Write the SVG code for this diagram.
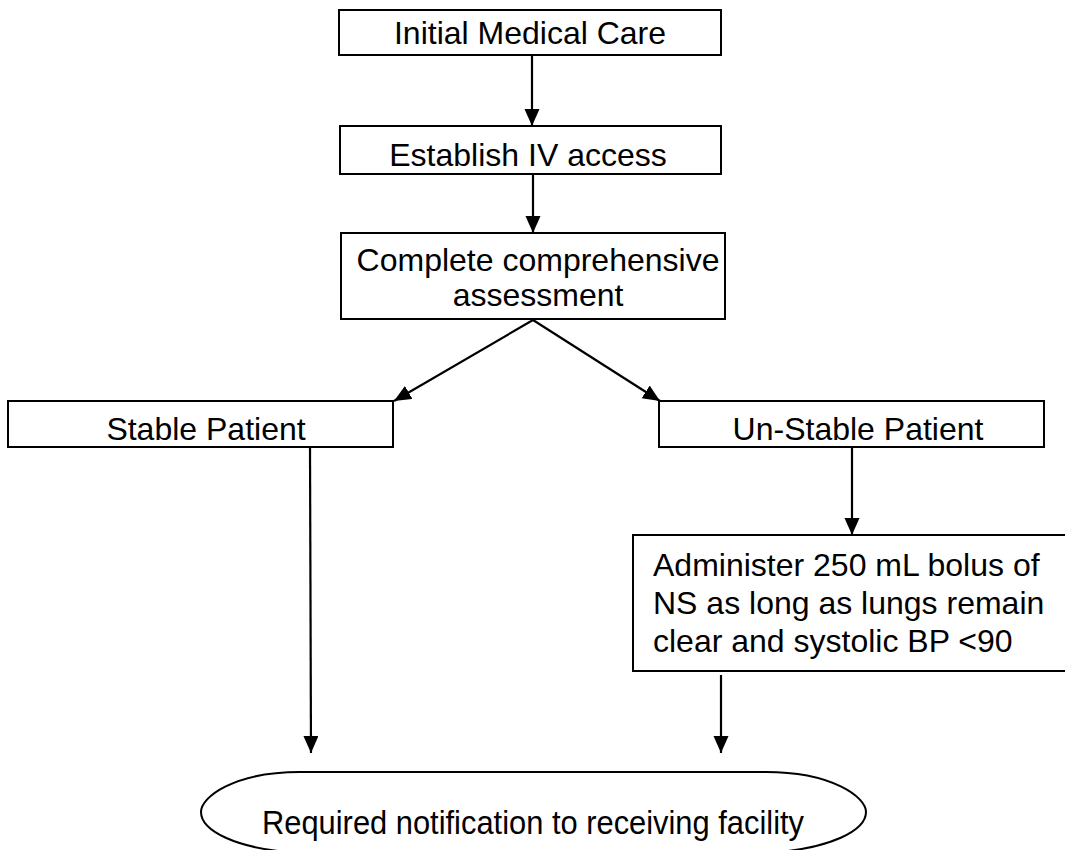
<svg xmlns="http://www.w3.org/2000/svg" width="1065" height="850" viewBox="0 0 1065 850">
<defs>
<style>
.box{fill:#fff;stroke:#000;stroke-width:2}
.t{font-family:"Liberation Sans",Arial,sans-serif;font-size:32px;fill:#000}
.c{text-anchor:middle}
.ln{stroke:#000;stroke-width:2.2;fill:none}
</style>
<marker id="ah" markerUnits="userSpaceOnUse" markerWidth="18" markerHeight="16" refX="17" refY="7.5" orient="auto">
<path d="M0,0 L17,7.5 L0,15 Z" fill="#000"/>
</marker>
</defs>
<rect width="1065" height="850" fill="#fff"/>
<g id="connectors">
<line class="ln" x1="532" y1="55" x2="532" y2="126" marker-end="url(#ah)"/>
<line class="ln" x1="533" y1="174" x2="533" y2="233" marker-end="url(#ah)"/>
<line class="ln" x1="533" y1="320" x2="394" y2="401" marker-end="url(#ah)"/>
<line class="ln" x1="533" y1="320" x2="660" y2="401" marker-end="url(#ah)"/>
<line class="ln" x1="310" y1="447" x2="311" y2="753" marker-end="url(#ah)"/>
<line class="ln" x1="852" y1="448" x2="852" y2="535" marker-end="url(#ah)"/>
<line class="ln" x1="721" y1="675" x2="721" y2="753" marker-end="url(#ah)"/>
</g>
<g id="n1">
<rect class="box" x="339" y="10" width="382" height="45"/>
<text class="t c" x="530" y="44">Initial Medical Care</text>
</g>
<g id="n2">
<rect class="box" x="340" y="126" width="381" height="48"/>
<text class="t c" x="528" y="166">Establish IV access</text>
</g>
<g id="n3">
<rect class="box" x="341" y="233" width="384" height="86"/>
<text class="t c" x="538" y="271">Complete comprehensive</text>
<text class="t c" x="538" y="306">assessment</text>
</g>
<g id="n4">
<rect class="box" x="8" y="401" width="385" height="46"/>
<text class="t c" x="206" y="440">Stable Patient</text>
</g>
<g id="n5">
<rect class="box" x="659" y="401" width="385" height="46"/>
<text class="t c" x="858" y="440">Un-Stable Patient</text>
</g>
<g id="n6">
<rect class="box" x="633" y="535" width="440" height="136"/>
<text class="t" x="653" y="576">Administer 250 mL bolus of</text>
<text class="t" x="653" y="614">NS as long as lungs remain</text>
<text class="t" x="653" y="652">clear and systolic BP &lt;90</text>
</g>
<g id="n7">
<path class="box" d="M300,772 L766,772 C832,772 866,797 866,812 C866,830 832,849 766,853 L300,853 C234,849 201,830 201,812 C201,797 234,772 300,772 Z"/>
<text class="t c" x="533" y="834" font-size="34" textLength="542" lengthAdjust="spacingAndGlyphs" style="font-size:34px">Required notification to receiving facility</text>
</g>
</svg>
